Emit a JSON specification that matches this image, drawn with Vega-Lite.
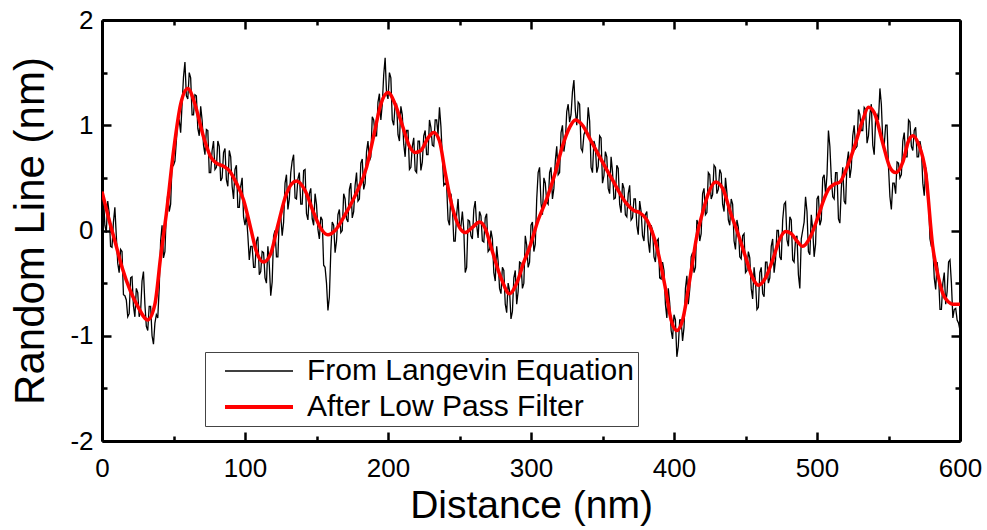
{
  "$schema": "https://vega.github.io/schema/vega-lite/v6.json",
  "width": 858,
  "height": 421,
  "autosize": "none",
  "padding": {"left": 102, "top": 20, "right": 27, "bottom": 89},
  "background": "white",
  "datasets": {
    "raw": [
      {"d":0,"v":0.30},{"d":2,"v":0.05},{"d":4,"v":0.28},{"d":6,"v":-0.15},{"d":8,"v":0.08},{"d":10,"v":-0.05},{"d":12,"v":-0.40},{"d":14,"v":-0.20},{"d":16,"v":-0.62},{"d":18,"v":-0.82},
      {"d":20,"v":-0.45},{"d":22,"v":-0.72},{"d":24,"v":-0.55},{"d":26,"v":-0.82},{"d":28,"v":-0.48},{"d":30,"v":-0.70},{"d":32,"v":-0.95},{"d":34,"v":-0.72},{"d":36,"v":-1.08},{"d":38,"v":-0.80},
      {"d":40,"v":-0.55},{"d":42,"v":0.05},{"d":44,"v":-0.20},{"d":46,"v":0.35},{"d":48,"v":0.25},{"d":50,"v":0.62},{"d":52,"v":0.85},{"d":54,"v":1.05},{"d":56,"v":1.20},{"d":58,"v":1.60},
      {"d":60,"v":1.25},{"d":62,"v":1.45},{"d":64,"v":1.10},{"d":66,"v":1.28},{"d":68,"v":0.90},{"d":70,"v":1.05},{"d":72,"v":0.72},{"d":74,"v":0.95},{"d":76,"v":0.55},{"d":78,"v":0.85},
      {"d":80,"v":0.60},{"d":82,"v":0.80},{"d":84,"v":0.50},{"d":86,"v":0.78},{"d":88,"v":0.42},{"d":90,"v":0.70},{"d":92,"v":0.30},{"d":94,"v":0.62},{"d":96,"v":0.22},{"d":98,"v":0.50},
      {"d":100,"v":0.05},{"d":102,"v":-0.05},{"d":104,"v":-0.15},{"d":106,"v":-0.35},{"d":108,"v":-0.10},{"d":110,"v":-0.42},{"d":112,"v":-0.20},{"d":114,"v":-0.45},{"d":116,"v":-0.15},{"d":118,"v":-0.62},
      {"d":120,"v":-0.05},{"d":122,"v":-0.25},{"d":124,"v":0.12},{"d":126,"v":-0.05},{"d":128,"v":0.45},{"d":130,"v":0.20},{"d":132,"v":0.55},{"d":134,"v":0.72},{"d":136,"v":0.30},{"d":138,"v":0.55},
      {"d":140,"v":0.25},{"d":142,"v":0.58},{"d":144,"v":0.10},{"d":146,"v":0.40},{"d":148,"v":0.05},{"d":150,"v":0.25},{"d":152,"v":-0.08},{"d":154,"v":0.10},{"d":156,"v":-0.35},{"d":158,"v":-0.76},
      {"d":160,"v":-0.20},{"d":162,"v":0.05},{"d":164,"v":-0.10},{"d":166,"v":0.20},{"d":168,"v":0.00},{"d":170,"v":0.30},{"d":172,"v":0.08},{"d":174,"v":0.45},{"d":176,"v":0.18},{"d":178,"v":0.55},
      {"d":180,"v":0.30},{"d":182,"v":0.68},{"d":184,"v":0.45},{"d":186,"v":0.85},{"d":188,"v":0.70},{"d":190,"v":1.05},{"d":192,"v":0.90},{"d":194,"v":1.30},{"d":196,"v":1.20},{"d":198,"v":1.64},
      {"d":200,"v":1.25},{"d":202,"v":1.45},{"d":204,"v":1.00},{"d":206,"v":1.20},{"d":208,"v":0.85},{"d":210,"v":1.10},{"d":212,"v":0.70},{"d":214,"v":0.95},{"d":216,"v":0.60},{"d":218,"v":0.88},
      {"d":220,"v":0.55},{"d":222,"v":0.85},{"d":224,"v":0.65},{"d":226,"v":0.95},{"d":228,"v":0.72},{"d":230,"v":0.98},{"d":232,"v":0.80},{"d":234,"v":1.05},{"d":236,"v":1.17},{"d":238,"v":0.70},
      {"d":240,"v":0.45},{"d":242,"v":0.10},{"d":244,"v":0.35},{"d":246,"v":-0.10},{"d":248,"v":0.15},{"d":250,"v":0.05},{"d":252,"v":0.18},{"d":254,"v":-0.40},{"d":256,"v":0.10},{"d":258,"v":-0.05},
      {"d":260,"v":0.20},{"d":262,"v":0.05},{"d":264,"v":0.18},{"d":266,"v":-0.10},{"d":268,"v":0.12},{"d":270,"v":-0.20},{"d":272,"v":0.00},{"d":274,"v":-0.40},{"d":276,"v":-0.15},{"d":278,"v":-0.55},
      {"d":280,"v":-0.35},{"d":282,"v":-0.70},{"d":284,"v":-0.50},{"d":286,"v":-0.84},{"d":288,"v":-0.45},{"d":290,"v":-0.70},{"d":292,"v":-0.30},{"d":294,"v":-0.55},{"d":296,"v":-0.05},{"d":298,"v":-0.35},
      {"d":300,"v":0.05},{"d":302,"v":-0.20},{"d":304,"v":0.30},{"d":306,"v":0.60},{"d":308,"v":0.15},{"d":310,"v":0.45},{"d":312,"v":0.25},{"d":314,"v":0.60},{"d":316,"v":0.40},{"d":318,"v":0.80},
      {"d":320,"v":0.55},{"d":322,"v":1.00},{"d":324,"v":0.85},{"d":326,"v":1.20},{"d":328,"v":1.10},{"d":330,"v":1.43},{"d":332,"v":1.00},{"d":334,"v":1.20},{"d":336,"v":0.75},{"d":338,"v":0.95},
      {"d":340,"v":1.17},{"d":342,"v":0.60},{"d":344,"v":0.85},{"d":346,"v":0.55},{"d":348,"v":0.90},{"d":350,"v":0.45},{"d":352,"v":0.75},{"d":354,"v":0.40},{"d":356,"v":0.70},{"d":358,"v":0.30},
      {"d":360,"v":0.62},{"d":362,"v":0.25},{"d":364,"v":0.45},{"d":366,"v":0.15},{"d":368,"v":0.35},{"d":370,"v":0.10},{"d":372,"v":0.30},{"d":374,"v":0.05},{"d":376,"v":0.28},{"d":378,"v":-0.05},
      {"d":380,"v":0.15},{"d":382,"v":-0.10},{"d":384,"v":0.05},{"d":386,"v":-0.25},{"d":388,"v":-0.10},{"d":390,"v":-0.45},{"d":392,"v":-0.30},{"d":394,"v":-0.70},{"d":396,"v":-0.55},{"d":398,"v":-0.95},
      {"d":400,"v":-0.80},{"d":402,"v":-1.20},{"d":404,"v":-0.85},{"d":406,"v":-1.05},{"d":408,"v":-0.55},{"d":410,"v":-0.70},{"d":412,"v":-0.25},{"d":414,"v":-0.40},{"d":416,"v":0.10},{"d":418,"v":-0.10},
      {"d":420,"v":0.35},{"d":422,"v":0.15},{"d":424,"v":0.55},{"d":426,"v":0.30},{"d":428,"v":0.62},{"d":430,"v":0.35},{"d":432,"v":0.58},{"d":434,"v":0.25},{"d":436,"v":0.50},{"d":438,"v":0.10},
      {"d":440,"v":0.30},{"d":442,"v":-0.10},{"d":444,"v":0.10},{"d":446,"v":-0.25},{"d":448,"v":-0.05},{"d":450,"v":-0.40},{"d":452,"v":-0.20},{"d":454,"v":-0.55},{"d":456,"v":-0.35},{"d":458,"v":-0.75},
      {"d":460,"v":-0.40},{"d":462,"v":-0.60},{"d":464,"v":-0.30},{"d":466,"v":-0.50},{"d":468,"v":-0.15},{"d":470,"v":-0.40},{"d":472,"v":0.00},{"d":474,"v":-0.25},{"d":476,"v":0.10},{"d":478,"v":0.27},
      {"d":480,"v":-0.15},{"d":482,"v":0.10},{"d":484,"v":-0.30},{"d":486,"v":-0.05},{"d":488,"v":-0.55},{"d":490,"v":0.00},{"d":492,"v":0.32},{"d":494,"v":-0.20},{"d":496,"v":0.15},{"d":498,"v":-0.25},
      {"d":500,"v":0.30},{"d":502,"v":0.05},{"d":504,"v":0.50},{"d":506,"v":0.35},{"d":508,"v":0.95},{"d":510,"v":0.50},{"d":512,"v":0.30},{"d":514,"v":0.55},{"d":516,"v":0.07},{"d":518,"v":0.60},
      {"d":520,"v":0.25},{"d":522,"v":0.75},{"d":524,"v":0.60},{"d":526,"v":1.00},{"d":528,"v":0.80},{"d":530,"v":1.10},{"d":532,"v":0.95},{"d":534,"v":1.15},{"d":536,"v":0.90},{"d":538,"v":1.20},
      {"d":540,"v":0.72},{"d":542,"v":1.10},{"d":544,"v":1.35},{"d":546,"v":0.85},{"d":548,"v":1.00},{"d":550,"v":0.60},{"d":552,"v":0.20},{"d":554,"v":0.45},{"d":556,"v":0.65},{"d":558,"v":0.50},
      {"d":560,"v":0.85},{"d":562,"v":0.70},{"d":564,"v":1.05},{"d":566,"v":0.80},{"d":568,"v":0.95},{"d":570,"v":0.70},{"d":572,"v":0.85},{"d":574,"v":0.45},{"d":576,"v":0.60},{"d":578,"v":0.30},
      {"d":580,"v":-0.15},{"d":582,"v":-0.45},{"d":584,"v":-0.30},{"d":586,"v":-0.75},{"d":588,"v":-0.50},{"d":590,"v":-0.70},{"d":592,"v":-0.30},{"d":594,"v":-0.50},{"d":596,"v":-0.75},{"d":598,"v":-0.85},
      {"d":600,"v":-0.95},
      {"d":1,"v":0.33},{"d":3,"v":-0.02},{"d":5,"v":0.17},{"d":7,"v":-0.16},{"d":9,"v":0.22},{"d":11,"v":-0.31},{"d":13,"v":-0.18},{"d":15,"v":-0.61},{"d":17,"v":-0.66},{"d":19,"v":-0.79},
      {"d":21,"v":-0.44},{"d":23,"v":-0.82},{"d":25,"v":-0.59},{"d":27,"v":-0.77},{"d":29,"v":-0.39},{"d":31,"v":-0.91},{"d":33,"v":-0.72},{"d":35,"v":-1.00},{"d":37,"v":-0.88},{"d":39,"v":-0.83},
      {"d":41,"v":-0.10},{"d":43,"v":-0.26},{"d":45,"v":0.18},{"d":47,"v":0.18},{"d":49,"v":0.64},{"d":51,"v":0.66},{"d":53,"v":1.07},{"d":55,"v":0.93},{"d":57,"v":1.46},{"d":59,"v":1.28},
      {"d":61,"v":1.50},{"d":63,"v":1.10},{"d":65,"v":1.29},{"d":67,"v":0.97},{"d":69,"v":1.18},{"d":71,"v":0.81},{"d":73,"v":0.96},{"d":75,"v":0.55},{"d":77,"v":0.76},{"d":79,"v":0.58},
      {"d":81,"v":0.85},{"d":83,"v":0.47},{"d":85,"v":0.74},{"d":87,"v":0.48},{"d":89,"v":0.76},{"d":91,"v":0.42},{"d":93,"v":0.58},{"d":95,"v":0.22},{"d":97,"v":0.42},{"d":99,"v":0.13},
      {"d":101,"v":0.15},{"d":103,"v":-0.28},{"d":105,"v":-0.15},{"d":107,"v":-0.35},{"d":109,"v":-0.06},{"d":111,"v":-0.39},{"d":113,"v":-0.21},{"d":115,"v":-0.50},{"d":117,"v":-0.33},{"d":119,"v":-0.49},
      {"d":121,"v":0.00},{"d":123,"v":-0.25},{"d":125,"v":0.14},{"d":127,"v":0.08},{"d":129,"v":0.53},{"d":131,"v":0.30},{"d":133,"v":0.66},{"d":135,"v":0.31},{"d":137,"v":0.49},{"d":139,"v":0.25},
      {"d":141,"v":0.57},{"d":143,"v":0.16},{"d":145,"v":0.35},{"d":147,"v":0.11},{"d":149,"v":0.35},{"d":151,"v":0.01},{"d":153,"v":0.13},{"d":155,"v":-0.33},{"d":157,"v":-0.50},{"d":159,"v":-0.63},
      {"d":161,"v":0.08},{"d":163,"v":-0.21},{"d":165,"v":0.15},{"d":167,"v":-0.02},{"d":169,"v":0.35},{"d":171,"v":0.11},{"d":173,"v":0.39},{"d":175,"v":0.12},{"d":177,"v":0.43},{"d":179,"v":0.28},
      {"d":181,"v":0.64},{"d":183,"v":0.39},{"d":185,"v":0.75},{"d":187,"v":0.66},{"d":189,"v":1.08},{"d":191,"v":0.90},{"d":193,"v":1.22},{"d":195,"v":1.05},{"d":197,"v":1.48},{"d":199,"v":1.30},
      {"d":201,"v":1.50},{"d":203,"v":1.05},{"d":205,"v":1.20},{"d":207,"v":0.91},{"d":209,"v":1.18},{"d":211,"v":0.82},{"d":213,"v":0.95},{"d":215,"v":0.58},{"d":217,"v":0.80},{"d":219,"v":0.57},
      {"d":221,"v":0.85},{"d":223,"v":0.57},{"d":225,"v":0.90},{"d":227,"v":0.72},{"d":229,"v":1.05},{"d":231,"v":0.81},{"d":233,"v":1.05},{"d":235,"v":0.91},{"d":237,"v":0.99},{"d":239,"v":0.43},
      {"d":241,"v":0.43},{"d":243,"v":0.05},{"d":245,"v":0.23},{"d":247,"v":-0.10},{"d":249,"v":0.30},{"d":251,"v":0.04},{"d":253,"v":0.01},{"d":255,"v":-0.35},{"d":257,"v":0.09},{"d":259,"v":-0.08},
      {"d":261,"v":0.28},{"d":263,"v":-0.07},{"d":265,"v":0.14},{"d":267,"v":-0.11},{"d":269,"v":0.16},{"d":271,"v":-0.18},{"d":273,"v":-0.08},{"d":275,"v":-0.48},{"d":277,"v":-0.29},{"d":279,"v":-0.60},
      {"d":281,"v":-0.38},{"d":283,"v":-0.78},{"d":285,"v":-0.57},{"d":287,"v":-0.77},{"d":289,"v":-0.38},{"d":291,"v":-0.58},{"d":293,"v":-0.31},{"d":295,"v":-0.50},{"d":297,"v":-0.14},{"d":299,"v":-0.30},
      {"d":301,"v":0.08},{"d":303,"v":-0.13},{"d":305,"v":0.55},{"d":307,"v":0.26},{"d":309,"v":0.50},{"d":311,"v":0.27},{"d":313,"v":0.55},{"d":315,"v":0.30},{"d":317,"v":0.66},{"d":319,"v":0.53},
      {"d":321,"v":0.93},{"d":323,"v":0.75},{"d":325,"v":1.13},{"d":327,"v":1.03},{"d":329,"v":1.32},{"d":331,"v":1.14},{"d":333,"v":1.22},{"d":335,"v":0.78},{"d":337,"v":0.91},{"d":339,"v":0.91},
      {"d":341,"v":1.04},{"d":343,"v":0.55},{"d":345,"v":0.80},{"d":347,"v":0.61},{"d":349,"v":0.88},{"d":351,"v":0.52},{"d":353,"v":0.70},{"d":355,"v":0.35},{"d":357,"v":0.56},{"d":359,"v":0.31},
      {"d":361,"v":0.59},{"d":363,"v":0.17},{"d":365,"v":0.40},{"d":367,"v":0.13},{"d":369,"v":0.43},{"d":371,"v":0.12},{"d":373,"v":0.30},{"d":375,"v":-0.04},{"d":377,"v":0.18},{"d":379,"v":-0.10},
      {"d":381,"v":0.18},{"d":383,"v":-0.21},{"d":385,"v":0.00},{"d":387,"v":-0.30},{"d":389,"v":-0.08},{"d":391,"v":-0.46},{"d":393,"v":-0.38},{"d":395,"v":-0.83},{"d":397,"v":-0.69},{"d":399,"v":-1.03},
      {"d":401,"v":-0.85},{"d":403,"v":-1.10},{"d":405,"v":-0.85},{"d":407,"v":-0.92},{"d":409,"v":-0.43},{"d":411,"v":-0.56},{"d":413,"v":-0.21},{"d":415,"v":-0.35},{"d":417,"v":0.06},{"d":419,"v":-0.03},
      {"d":421,"v":0.40},{"d":423,"v":0.17},{"d":425,"v":0.53},{"d":427,"v":0.34},{"d":429,"v":0.60},{"d":431,"v":0.39},{"d":433,"v":0.54},{"d":435,"v":0.18},{"d":437,"v":0.36},{"d":439,"v":0.05},
      {"d":441,"v":0.25},{"d":443,"v":-0.18},{"d":445,"v":0.03},{"d":447,"v":-0.27},{"d":449,"v":-0.03},{"d":451,"v":-0.38},{"d":453,"v":-0.26},{"d":455,"v":-0.65},{"d":457,"v":-0.49},{"d":459,"v":-0.73},
      {"d":461,"v":-0.35},{"d":463,"v":-0.63},{"d":465,"v":-0.30},{"d":467,"v":-0.45},{"d":469,"v":-0.08},{"d":471,"v":-0.28},{"d":473,"v":0.00},{"d":475,"v":-0.28},{"d":477,"v":0.25},{"d":479,"v":-0.09},
      {"d":481,"v":0.13},{"d":483,"v":-0.28},{"d":485,"v":-0.08},{"d":487,"v":-0.42},{"d":489,"v":-0.08},{"d":491,"v":0.08},{"d":493,"v":0.18},{"d":495,"v":-0.23},{"d":497,"v":0.01},{"d":499,"v":-0.13},
      {"d":501,"v":0.33},{"d":503,"v":0.10},{"d":505,"v":0.53},{"d":507,"v":0.53},{"d":509,"v":0.80},{"d":511,"v":0.32},{"d":513,"v":0.55},{"d":515,"v":0.11},{"d":517,"v":0.40},{"d":519,"v":0.28},
      {"d":521,"v":0.65},{"d":523,"v":0.50},{"d":525,"v":0.90},{"d":527,"v":0.78},{"d":529,"v":1.15},{"d":531,"v":0.95},{"d":533,"v":1.17},{"d":535,"v":0.83},{"d":537,"v":1.11},{"d":539,"v":0.81},
      {"d":541,"v":1.06},{"d":543,"v":1.05},{"d":545,"v":1.20},{"d":547,"v":0.81},{"d":549,"v":1.00},{"d":551,"v":0.32},{"d":553,"v":0.45},{"d":555,"v":0.35},{"d":557,"v":0.64},{"d":559,"v":0.53},
      {"d":561,"v":0.93},{"d":563,"v":0.70},{"d":565,"v":1.03},{"d":567,"v":0.76},{"d":569,"v":0.98},{"d":571,"v":0.70},{"d":573,"v":0.77},{"d":575,"v":0.33},{"d":577,"v":0.51},{"d":579,"v":-0.08},
      {"d":581,"v":-0.15},{"d":583,"v":-0.56},{"d":585,"v":-0.43},{"d":587,"v":-0.75},{"d":589,"v":-0.40},{"d":591,"v":-0.58},{"d":593,"v":-0.28},{"d":595,"v":-0.83},{"d":597,"v":-0.74},{"d":599,"v":-0.88}
    ],
    "filtered": [
      {"d":0,"v":0.37},{"d":5,"v":0.10},{"d":10,"v":-0.15},{"d":14,"v":-0.35},{"d":20,"v":-0.58},{"d":25,"v":-0.72},{"d":32,"v":-0.85},{"d":37,"v":-0.70},{"d":41,"v":-0.25},{"d":45,"v":0.16},
      {"d":50,"v":0.75},{"d":55,"v":1.20},{"d":60,"v":1.35},{"d":65,"v":1.20},{"d":71,"v":0.89},{"d":76,"v":0.70},{"d":80,"v":0.64},{"d":85,"v":0.61},{"d":89,"v":0.57},{"d":94,"v":0.45},
      {"d":99,"v":0.29},{"d":104,"v":0.02},{"d":108,"v":-0.20},{"d":113,"v":-0.30},{"d":118,"v":-0.22},{"d":123,"v":0.05},{"d":129,"v":0.35},{"d":136,"v":0.47},{"d":142,"v":0.38},{"d":148,"v":0.17},
      {"d":153,"v":0.02},{"d":158,"v":-0.04},{"d":163,"v":0.00},{"d":170,"v":0.15},{"d":178,"v":0.36},{"d":185,"v":0.60},{"d":190,"v":0.90},{"d":195,"v":1.20},{"d":200,"v":1.31},{"d":205,"v":1.20},
      {"d":210,"v":1.00},{"d":215,"v":0.80},{"d":219,"v":0.74},{"d":223,"v":0.76},{"d":228,"v":0.88},{"d":232,"v":0.93},{"d":236,"v":0.85},{"d":240,"v":0.55},{"d":245,"v":0.22},{"d":250,"v":0.03},
      {"d":254,"v":-0.02},{"d":259,"v":0.03},{"d":264,"v":0.08},{"d":268,"v":0.02},{"d":273,"v":-0.20},{"d":279,"v":-0.45},{"d":285,"v":-0.60},{"d":290,"v":-0.50},{"d":295,"v":-0.30},{"d":299,"v":-0.16},
      {"d":305,"v":0.10},{"d":311,"v":0.30},{"d":317,"v":0.55},{"d":322,"v":0.80},{"d":327,"v":0.98},{"d":331,"v":1.05},{"d":336,"v":1.00},{"d":342,"v":0.85},{"d":348,"v":0.70},{"d":357,"v":0.48},
      {"d":366,"v":0.27},{"d":372,"v":0.19},{"d":376,"v":0.17},{"d":381,"v":0.10},{"d":388,"v":-0.16},{"d":394,"v":-0.55},{"d":398,"v":-0.85},{"d":402,"v":-0.95},{"d":406,"v":-0.85},{"d":411,"v":-0.47},
      {"d":416,"v":-0.05},{"d":420,"v":0.17},{"d":424,"v":0.35},{"d":429,"v":0.46},{"d":434,"v":0.40},{"d":440,"v":0.15},{"d":444,"v":0.00},{"d":450,"v":-0.25},{"d":455,"v":-0.45},{"d":459,"v":-0.52},
      {"d":464,"v":-0.45},{"d":469,"v":-0.28},{"d":474,"v":-0.08},{"d":478,"v":-0.01},{"d":482,"v":-0.03},{"d":486,"v":-0.10},{"d":490,"v":-0.15},{"d":495,"v":-0.07},{"d":500,"v":0.10},{"d":505,"v":0.30},
      {"d":508,"v":0.39},{"d":512,"v":0.44},{"d":516,"v":0.46},{"d":521,"v":0.60},{"d":527,"v":0.83},{"d":532,"v":1.05},{"d":536,"v":1.17},{"d":540,"v":1.12},{"d":546,"v":0.83},{"d":551,"v":0.60},
      {"d":555,"v":0.55},{"d":560,"v":0.65},{"d":564,"v":0.85},{"d":567,"v":0.90},{"d":571,"v":0.82},{"d":576,"v":0.55},{"d":581,"v":-0.16},{"d":585,"v":-0.45},{"d":588,"v":-0.60},{"d":592,"v":-0.68},
      {"d":595,"v":-0.70},{"d":600,"v":-0.70}
    ]
  },
  "config": {
    "view": {"stroke": null},
    "axis": {
      "grid": false,
      "domainColor": "black",
      "tickColor": "black",
      "labelColor": "black",
      "titleColor": "black",
      "labelFont": "Liberation Sans",
      "titleFont": "Liberation Sans",
      "titleFontWeight": "normal",
      "tickWidth": 2.5,
      "domainWidth": 3
    }
  },
  "resolve": {"axis": {"x": "independent", "y": "independent"}},
  "layer": [
    {
      "data": {"name": "raw"},
      "mark": {"type": "line", "strokeWidth": 1.3, "clip": true},
      "encoding": {
        "x": {"field": "d", "type": "quantitative", "scale": {"domain": [0, 600], "nice": false, "zero": false},
          "axis": {"orient": "bottom", "values": [0,100,200,300,400,500,600], "tickSize": -9, "labelFontSize": 26, "labelPadding": 23, "labelExpr": "'' + datum.value", "labelFlush": false, "labelOverlap": false, "title": "Distance (nm)", "titleFontSize": 39, "titlePadding": 5}},
        "y": {"field": "v", "type": "quantitative", "scale": {"domain": [-2, 2], "nice": false, "zero": false},
          "axis": {"orient": "left", "values": [-2,-1,0,1,2], "tickSize": -9, "labelFontSize": 26, "labelPadding": 18, "labelExpr": "'' + datum.value", "labelFlush": false, "labelOverlap": false, "title": "Random Line (nm)", "titleFontSize": 42, "titlePadding": 17}},
        "color": {"datum": "From Langevin Equation", "type": "nominal",
          "scale": {"domain": ["From Langevin Equation", "After Low Pass Filter"], "range": ["#000000", "#ff0000"]},
          "legend": {
            "orient": "none", "legendX": 103, "legendY": 332, "title": null,
            "symbolType": "M0.1,0H6.9", "symbolSize": 400,
            "labelFontSize": 30, "labelFont": "Liberation Sans", "labelColor": "black", "labelOffset": 68, "labelLimit": 600,
            "padding": 4, "rowPadding": 6,
            "fillColor": "white", "strokeColor": "#444444",
            "encode": {"symbols": {"update": {"strokeWidth": {"signal": "datum.value === 'After Low Pass Filter' ? 4 : 1.5"}}}}
          }}
      }
    },
    {
      "data": {"name": "filtered"},
      "mark": {"type": "line", "strokeWidth": 3.5, "interpolate": "monotone", "clip": true},
      "encoding": {
        "x": {"field": "d", "type": "quantitative", "axis": {"orient": "top", "values": [0,100,200,300,400,500,600], "tickSize": -9, "labels": false, "title": null}},
        "y": {"field": "v", "type": "quantitative", "axis": {"orient": "right", "values": [-2,-1,0,1,2], "tickSize": -9, "labels": false, "title": null}},
        "color": {"datum": "After Low Pass Filter", "type": "nominal"}
      }
    },
    {
      "data": {"name": "filtered"},
      "mark": {"type": "line", "strokeOpacity": 0},
      "encoding": {
        "x": {"field": "d", "type": "quantitative", "axis": {"orient": "bottom", "values": [50,150,250,350,450,550], "tickSize": -5, "labels": false, "domain": false, "title": null}},
        "y": {"field": "v", "type": "quantitative", "axis": {"orient": "left", "values": [-1.5,-0.5,0.5,1.5], "tickSize": -5, "labels": false, "domain": false, "title": null}}
      }
    },
    {
      "data": {"name": "filtered"},
      "mark": {"type": "line", "strokeOpacity": 0},
      "encoding": {
        "x": {"field": "d", "type": "quantitative", "axis": {"orient": "top", "values": [50,150,250,350,450,550], "tickSize": -5, "labels": false, "domain": false, "title": null}},
        "y": {"field": "v", "type": "quantitative", "axis": {"orient": "right", "values": [-1.5,-0.5,0.5,1.5], "tickSize": -5, "labels": false, "domain": false, "title": null}}
      }
    },
    {
      "mark": {"type": "text", "fontSize": 28, "font": "Liberation Sans", "color": "black", "align": "center", "baseline": "middle"},
      "encoding": {
        "x": {"datum": 34, "type": "quantitative", "axis": null},
        "y": {"datum": 1.61, "type": "quantitative", "axis": null},
        "text": {"value": "(a)"}
      }
    }
  ]
}
